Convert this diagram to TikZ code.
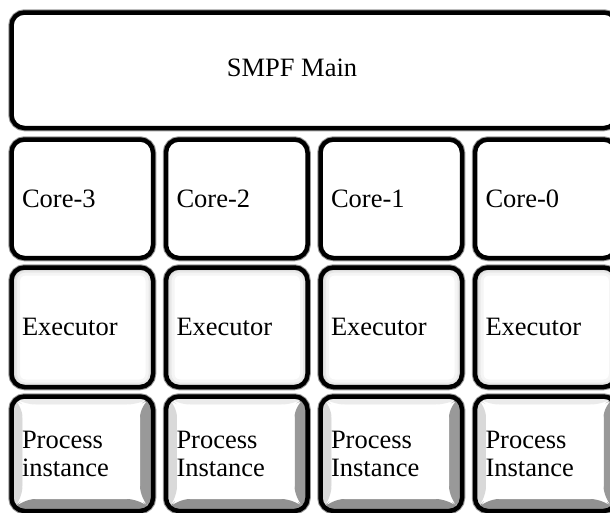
\documentclass[tikz,border=0pt]{standalone}
\usepackage{fontspec}
\setmainfont{Liberation Serif}
\usetikzlibrary{calc}

\tikzset{
  box/.style={
    draw=black, line width=4.5pt, rounded corners=13pt, fill=white,
    anchor=north west, minimum width=141.5pt, inner xsep=10.5pt, inner ysep=2pt,
    text width=120.5pt, align=left,
    font=\fontsize{26.5}{28}\selectfont,
    preaction={draw=black!40, line width=6.5pt}
  },
  glow/.style={
    path picture={
      \foreach \w/\o in {16/0.04, 10/0.05, 6/0.06, 3.5/0.08}{
        \draw[black, opacity=\o, line width=\w pt, rounded corners=13pt]
          ($(path picture bounding box.north west)+(0.5,0)$) rectangle
          ($(path picture bounding box.south east)+(0.5,0.5)$);
      }
    }
  },
  bevel/.style={
    path picture={
      \coordinate (onw) at (path picture bounding box.north west);
      \coordinate (one) at (path picture bounding box.north east);
      \coordinate (osw) at (path picture bounding box.south west);
      \coordinate (ose) at (path picture bounding box.south east);
      \coordinate (inw) at ($(onw)+(11,8)$);
      \coordinate (ine) at ($(one)+(-13,8)$);
      \coordinate (isw) at ($(osw)+(11,-12)$);
      \coordinate (ise) at ($(ose)+(-13,-12)$);
      \fill[black!8]  (onw) -- (one) -- (ine) -- (inw) -- cycle;
      \fill[black!15] (onw) -- (osw) -- (isw) -- (inw) -- cycle;
      \fill[black!40] (one) -- (ose) -- (ise) -- (ine) -- cycle;
      \fill[black!43] (osw) -- (ose) -- (ise) -- (isw) -- cycle;
      \fill[white] (inw) rectangle (ise);
    }
  },
  label/.style={font=\fontsize{26.5}{28}\selectfont}
}

\begin{document}
\begin{tikzpicture}[x=1pt, y=-1pt]
  \useasboundingbox (0,0) rectangle (610,512);
  \clip (0,0) rectangle (610,512);

  % top framework box
  \node[box, minimum width=605.5pt, minimum height=115.5pt, text width=0pt] (main) at (9.25,10.25) {};
  \node[label] (mainlabel) at (292,68) {SMPF Main};

  % one column per core
  \foreach \c/\k/\pi in {0/3/instance, 1/2/Instance, 2/1/Instance, 3/0/Instance}{
    \pgfmathsetmacro{\xl}{9.25+154.5*\c}
    \node[box, minimum height=118.5pt] (core\k) at (\xl,137.25) {Core-\k};
    \node[box, glow, minimum height=119.5pt] (exec\k) at (\xl,265.25) {Executor};
    \node[box, bevel, minimum height=114.5pt] (proc\k) at (\xl,394.25) {Process\\\pi};
  }
\end{tikzpicture}
\end{document}
